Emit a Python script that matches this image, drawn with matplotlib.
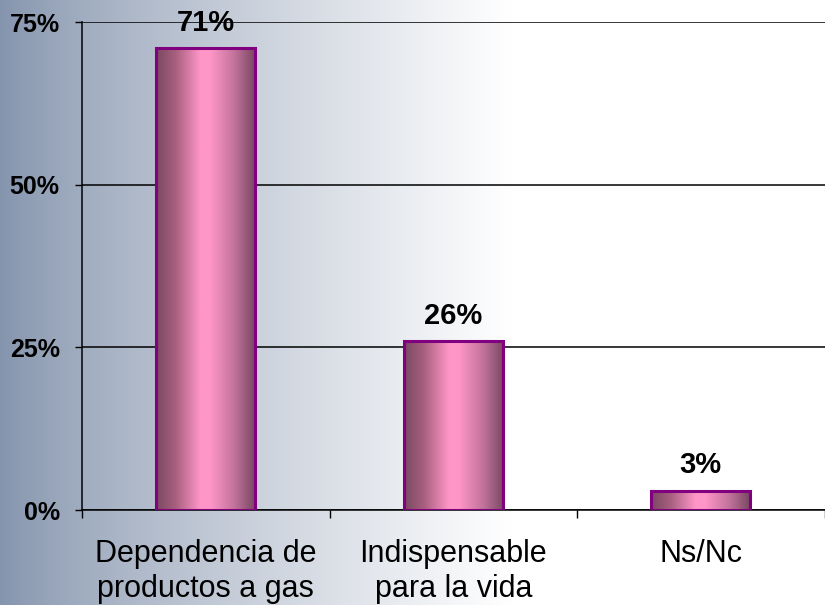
import numpy as np
import matplotlib.pyplot as plt
from matplotlib.colors import LinearSegmentedColormap, to_rgb

categories = ["Dependencia de\nproductos a gas", "Indispensable\npara la vida", "Ns/Nc"]
values = [71, 26, 3]
yticks = [0, 25, 50, 75]
ytick_labels = ["0%", "25%", "50%", "75%"]

plt.rcParams['font.family'] = ['Liberation Sans', 'DejaVu Sans']

fig = plt.figure(figsize=(8.25, 6.05), dpi=100)

# background: blue-grey on the left fading to white
bg = fig.add_axes([0, 0, 1, 1], zorder=-10)
bg.axis('off')
xs = np.linspace(0, 1, 400)
left = np.array(to_rgb('#8494ad'))
t = np.clip(xs / 0.62, 0, 1) ** 0.8
row = left[None, :] * (1 - t[:, None]) + np.ones(3)[None, :] * t[:, None]
bg.imshow(row[None, :, :], aspect='auto', extent=[0, 1, 0, 1])
bg.set_xlim(0, 1)
bg.set_ylim(0, 1)

ax = fig.add_axes([0.0994, 0.157, 0.9, 0.806])
ax.patch.set_alpha(0)

bar_cmap = LinearSegmentedColormap.from_list(
    'cyl', [(0, '#7a4862'), (0.2, '#a8607f'), (0.45, '#ff96c8'), (0.55, '#ff96c8'),
            (0.8, '#c0729a'), (1, '#7a4862')])
grad = np.linspace(0, 1, 256)[None, :]

x = np.arange(len(categories))
width = 0.4
bars = ax.bar(x, values, width=width, facecolor='none', edgecolor='#800080',
              linewidth=2.2, zorder=4)
for b in bars:
    x0, y0 = b.get_x(), b.get_y()
    im = ax.imshow(grad, cmap=bar_cmap, aspect='auto', zorder=3,
                   extent=[x0, x0 + b.get_width(), y0, y0 + b.get_height()])
    im.set_clip_path(b)

for xi, v in zip(x, values):
    ax.annotate(f"{v}%", (xi, v), xytext=(0, 12.5), textcoords='offset points',
                ha='center', va='baseline', fontsize=21, fontweight='bold',
                zorder=6, annotation_clip=False)

ax.set_xlim(-0.5, 2.5)
ax.set_ylim(0, 75)
ax.set_yticks(yticks)
ax.set_yticklabels(ytick_labels, fontsize=18, fontweight='bold')
ax.yaxis.grid(True, color='black', linewidth=1.1, zorder=1)
ax.set_axisbelow(True)

ax.set_xticks(x)
ax.set_xticklabels(categories, fontsize=22, linespacing=1.2)
ax.set_xticks([-0.5, 0.5, 1.5, 2.5], minor=True)
ax.tick_params(axis='x', which='major', length=0, pad=21)
ax.tick_params(axis='x', which='minor', length=6, width=1, color='black', direction='out')
ax.tick_params(axis='y', length=5, width=1, pad=11, direction='out')

for s in ['top', 'right']:
    ax.spines[s].set_visible(False)
ax.spines['left'].set_linewidth(1.1)
ax.spines['bottom'].set_linewidth(1.1)

fig.savefig('out.png', dpi=100)
